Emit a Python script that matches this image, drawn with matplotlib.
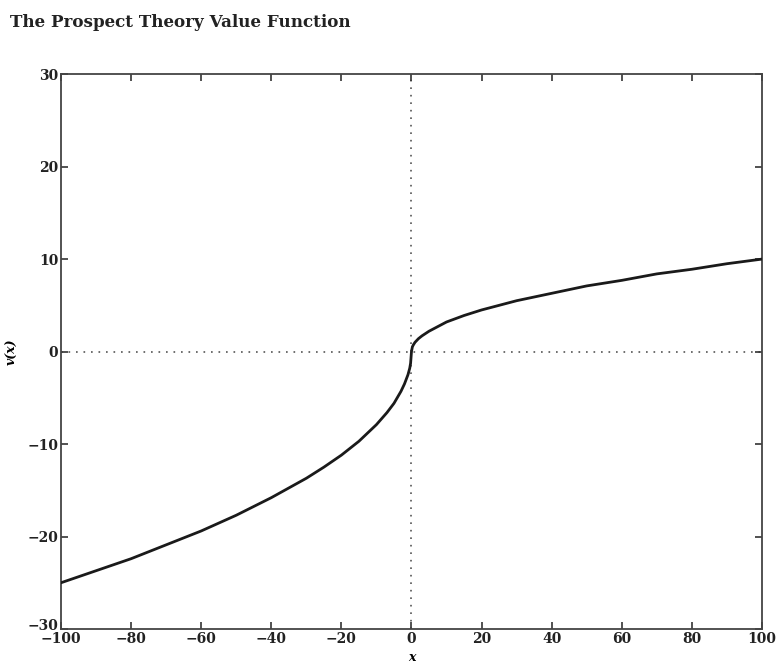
import matplotlib
matplotlib.use("Agg")
import matplotlib.pyplot as plt
import matplotlib.transforms as mtransforms

# Values
gain_x = [0, 0.25, 0.5, 1, 2, 3, 5, 7, 10, 15, 20, 25, 30, 40, 50, 60, 70, 80, 90, 100]
gain_v = [0, 0.5, 0.7, 1.0, 1.4, 1.7, 2.2, 2.6, 3.2, 3.9, 4.5, 5.0, 5.5, 6.3, 7.1, 7.7, 8.4, 8.9, 9.5, 10.0]
loss_x = [-100, -90, -80, -70, -60, -50, -40, -30, -25, -20, -15, -10, -7, -5, -3, -2, -1, -0.5, -0.25, 0]
loss_v = [-25, -23.7, -22.4, -20.9, -19.4, -17.7, -15.8, -13.7, -12.5, -11.2, -9.7, -7.9, -6.6, -5.6, -4.3, -3.5, -2.5, -1.8, -1.25, 0]
x_ticks = [-100, -80, -60, -40, -20, 0, 20, 40, 60, 80, 100]
y_ticks = [-30, -20, -10, 0, 10, 20, 30]

plt.rcParams['font.family'] = ['DejaVu Serif']
fig = plt.figure(figsize=(7.78, 6.68), dpi=100)
ax = fig.add_axes([0.0784, 0.0584, 0.901, 0.8306])

ax.axhline(0, color='#555555', lw=1.2, ls=(0, (1, 3.5)), zorder=1)
ax.axvline(0, color='#555555', lw=1.2, ls=(0, (1, 3.5)), zorder=1)
ax.plot(loss_x + gain_x[1:], loss_v + gain_v[1:], color='#1a1a1a', lw=2.0, zorder=3)

ax.set_xlim(-100, 100)
ax.set_ylim(-30, 30)
ax.set_xticks(x_ticks)
ax.set_yticks(y_ticks)
ax.set_xticklabels([str(t).replace('-', '\u2212') for t in x_ticks], fontsize=10, fontweight='bold')
ax.set_yticklabels([str(t).replace('-', '\u2212') for t in y_ticks], fontsize=10, fontweight='bold')
ax.tick_params(direction='in', top=True, right=True, length=5, width=1.2, pad=2, colors='#333333', labelcolor='#222222')
for s in ax.spines.values():
    s.set_linewidth(1.3)
    s.set_color('#444444')

# nudge the bottom y label up slightly, as in the reference
lab = ax.get_yticklabels()[0]
lab.set_transform(lab.get_transform() + mtransforms.ScaledTranslation(0, 3 / 72, fig.dpi_scale_trans))

ax.set_xlabel('x', fontsize=9, fontstyle='italic', fontweight='bold', labelpad=4)
ax.set_ylabel('v(x)', fontsize=9, fontstyle='italic', fontweight='bold', labelpad=6)
fig.text(0.013, 0.967, 'The Prospect Theory Value Function', fontsize=12.1,
         fontweight='bold', color='#222222', va='center', ha='left')

fig.savefig('out.png', dpi=100)
